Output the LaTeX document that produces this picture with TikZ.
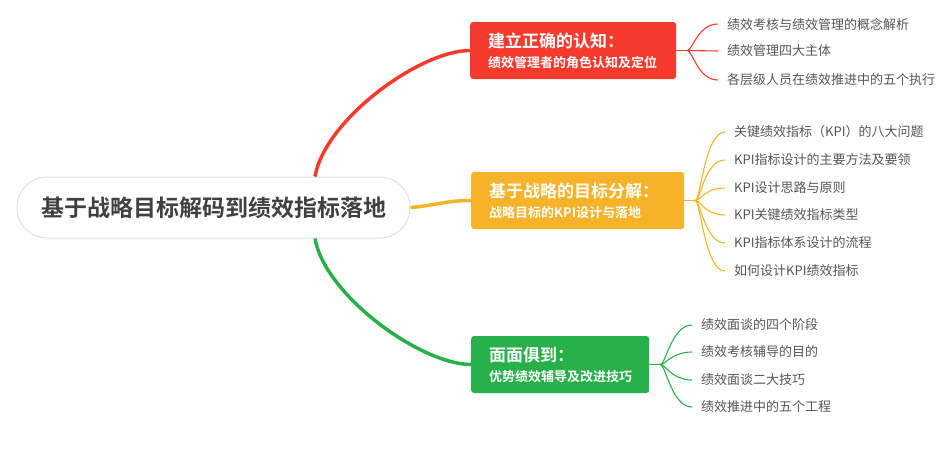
\documentclass[tikz,border=0pt]{standalone}
\usepackage{fontspec}
\setmainfont{Noto Sans CJK SC}[BoldFont={Noto Sans CJK SC Bold}]
\definecolor{rootgray}{HTML}{404040}
\definecolor{leafgray}{HTML}{555555}
\definecolor{redbr}{HTML}{F43B2D}
\definecolor{orangebr}{HTML}{F6B229}
\definecolor{greenbr}{HTML}{27AF4A}
\newcommand{\topic}[2]{{\fontsize{17}{20}\selectfont\bfseries #1}\\{\bfseries #2}}
\tikzset{
  rootbox/.style={draw=black!12, line width=1pt, fill=white, rounded corners=30pt,
    minimum width=393pt, minimum height=61pt, text=rootgray,
    font=\fontsize{23}{28}\selectfont\bfseries},
  topicbox/.style={fill=#1, rounded corners=3pt, anchor=west, minimum height=57pt,
    inner xsep=18pt, inner ysep=0pt, align=left, text=white,
    font=\fontsize{13}{20}\selectfont},
  leaf/.style={anchor=west, inner xsep=9pt, inner ysep=1pt, text=leafgray,
    font=\fontsize{13}{16}\selectfont},
  mainline/.style={line width=3.5pt, #1},
  fanline/.style={line width=1.1pt, #1},
}
\begin{document}
\begin{tikzpicture}[x=1pt, y=-1pt]
\useasboundingbox (0,0) rectangle (942,450);

\node[rootbox] (root) at (213.5,207.5) {基于战略目标解码到绩效指标落地};

% three topics
\node[topicbox=redbr, text width=170pt] (cognition) at (470,50.5)
  {\topic{建立正确的认知：}{绩效管理者的角色认知及定位}};
\node[topicbox=orangebr, text width=177pt] (decompose) at (471,200.5)
  {\topic{基于战略的目标分解：}{战略目标的KPI设计与落地}};
\node[topicbox=greenbr, text width=142pt] (coaching) at (471,364.5)
  {\topic{面面俱到：}{优势绩效辅导及改进技巧}};

\draw[mainline=redbr] ([xshift=101.5pt]root.north) .. controls +(10,-57) and +(-50,0) .. (cognition.west);
\draw[mainline=orangebr] (root.east) .. controls +(25,-2) and +(-25,0) .. (decompose.west);
\draw[mainline=greenbr] ([xshift=101.5pt]root.south) .. controls +(10,57) and +(-50,0) .. (coaching.west);

% leaves of the red topic
\node[leaf] (cog1) at (718,24) {绩效考核与绩效管理的概念解析};
\node[leaf] (cog2) at (718,51) {绩效管理四大主体};
\node[leaf] (cog3) at (718,80) {各层级人员在绩效推进中的五个执行};
\coordinate (cogfork) at ([xshift=11pt]cognition.east);
\draw[fanline=redbr] (cognition.east) -- (cogfork);
\draw[fanline=redbr] (cogfork) .. controls +(5,0) and +(-20,0) .. (cog1.west);
\draw[fanline=redbr] (cogfork) -- (cog2.west);
\draw[fanline=redbr] (cogfork) .. controls +(5,0) and +(-20,0) .. (cog3.west);

% leaves of the orange topic
\node[leaf] (dec1) at (725,132) {关键绩效指标（KPI）的八大问题};
\node[leaf] (dec2) at (725,160) {KPI指标设计的主要方法及要领};
\node[leaf] (dec3) at (725,188) {KPI设计思路与原则};
\node[leaf] (dec4) at (725,215) {KPI关键绩效指标类型};
\node[leaf] (dec5) at (725,243) {KPI指标体系设计的流程};
\node[leaf] (dec6) at (725,271) {如何设计KPI绩效指标};
\coordinate (decfork) at ([xshift=11pt]decompose.east);
\draw[fanline=orangebr] (decompose.east) -- (decfork);
\draw[fanline=orangebr] (decfork) .. controls +(5,0) and +(-20,0) .. (dec1.west);
\draw[fanline=orangebr] (decfork) .. controls +(5,0) and +(-20,0) .. (dec2.west);
\draw[fanline=orangebr] (decfork) .. controls +(5,0) and +(-20,0) .. (dec3.west);
\draw[fanline=orangebr] (decfork) .. controls +(5,0) and +(-20,0) .. (dec4.west);
\draw[fanline=orangebr] (decfork) .. controls +(5,0) and +(-20,0) .. (dec5.west);
\draw[fanline=orangebr] (decfork) .. controls +(5,0) and +(-20,0) .. (dec6.west);

% leaves of the green topic
\node[leaf] (coa1) at (692,325) {绩效面谈的四个阶段};
\node[leaf] (coa2) at (692,352) {绩效考核辅导的目的};
\node[leaf] (coa3) at (692,380) {绩效面谈二大技巧};
\node[leaf] (coa4) at (692,407) {绩效推进中的五个工程};
\coordinate (coafork) at ([xshift=11pt]coaching.east);
\draw[fanline=greenbr] (coaching.east) -- (coafork);
\draw[fanline=greenbr] (coafork) .. controls +(5,0) and +(-20,0) .. (coa1.west);
\draw[fanline=greenbr] (coafork) .. controls +(5,0) and +(-20,0) .. (coa2.west);
\draw[fanline=greenbr] (coafork) .. controls +(5,0) and +(-20,0) .. (coa3.west);
\draw[fanline=greenbr] (coafork) .. controls +(5,0) and +(-20,0) .. (coa4.west);

\end{tikzpicture}
\end{document}
